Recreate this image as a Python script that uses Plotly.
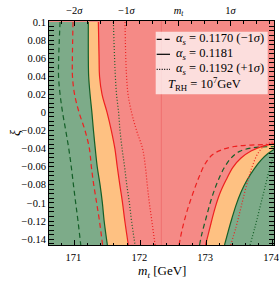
import plotly.graph_objects as go

# ---------------- data ----------------
# left-hand boundaries: m_t [GeV] at the common xi grid
xi_left = [0.1, 0.06, 0.04, 0.02, 0.0, -0.02, -0.04, -0.06, -0.08, -0.10, -0.12, -0.1465]
mt_dash_green_left = [170.783, 170.762, 170.760, 170.783, 170.821, 170.869, 170.915, 170.953, 170.986, 171.020, 171.055, 171.097]
mt_dash_red_left = [170.980, 170.970, 170.971, 171.003, 171.071, 171.162, 171.228, 171.258, 171.294, 171.338, 171.381, 171.428]
mt_solid_green_left = [171.212, 171.212, 171.217, 171.238, 171.266, 171.290, 171.317, 171.347, 171.390, 171.425, 171.452, 171.501]
mt_solid_red_left = [171.364, 171.375, 171.382, 171.420, 171.496, 171.561, 171.615, 171.651, 171.690, 171.731, 171.766, 171.819]
mt_dot_green_left = [171.592, 171.610, 171.622, 171.640, 171.671, 171.693, 171.724, 171.762, 171.795, 171.835, 171.868, 171.921]
mt_dot_red_left = [171.769, 171.780, 171.792, 171.815, 171.868, 171.944, 172.035, 172.078, 172.106, 172.138, 172.176, 172.225]

# right-hand boundaries (m_t, xi)
mt_dash_red_right = [172.589, 172.634, 172.710, 172.801, 172.892, 172.983, 173.090, 173.226, 173.423, 173.681, 174.030]
xi_dash_red_right = [-0.1465, -0.1300, -0.1090, -0.0891, -0.0714, -0.0570, -0.0471, -0.0416, -0.0377, -0.0361, -0.0355]
mt_dash_green_right = [172.900, 172.938, 172.999, 173.075, 173.166, 173.272, 173.379, 173.500, 173.681, 174.030]
xi_dash_green_right = [-0.1465, -0.1333, -0.1167, -0.0968, -0.0780, -0.0615, -0.0504, -0.0433, -0.0394, -0.0377]
mt_solid_red_right = [172.991, 173.029, 173.075, 173.135, 173.211, 173.302, 173.409, 173.530, 173.681, 173.863, 174.030]
xi_solid_red_right = [-0.1465, -0.1355, -0.1222, -0.1057, -0.0891, -0.0747, -0.0604, -0.0504, -0.0427, -0.0372, -0.0344]
mt_solid_green_right = [173.279, 173.332, 173.393, 173.454, 173.530, 173.621, 173.727, 173.833, 173.939, 174.030]
xi_solid_green_right = [-0.1465, -0.1322, -0.1167, -0.1024, -0.0880, -0.0747, -0.0626, -0.0527, -0.0455, -0.0411]
mt_dot_red_right = [173.373, 173.454, 173.530, 173.606, 173.697, 173.788, 173.894, 174.030]
xi_dot_red_right = [-0.1465, -0.1266, -0.1046, -0.0825, -0.0604, -0.0449, -0.0361, -0.0322]
mt_dot_green_right = [173.666, 173.742, 173.818, 173.894, 173.970, 174.030]
xi_dot_green_right = [-0.1465, -0.1266, -0.1046, -0.0825, -0.0604, -0.0471]

mt_central = 172.58
mt_sigma = 0.79
mt_vline = 172.32
top_tick_k = [-2, -1, 0, 1]
top_tick_text = ["\u22122<i>\u03c3</i>", "\u22121<i>\u03c3</i>", "<i>m</i><sub><i>t</i></sub>", "1<i>\u03c3</i>"]
legend_labels = ["<i>\u03b1</i><sub><i>s</i></sub> = 0.1170 (\u22121<i>\u03c3</i>)",
                 "<i>\u03b1</i><sub><i>s</i></sub> = 0.1181",
                 "<i>\u03b1</i><sub><i>s</i></sub> = 0.1192 (+1<i>\u03c3</i>)"]
legend_extra = "<i>T</i><sub>RH</sub> = 10<sup>7</sup>GeV"
x_title = "<i>m</i><sub><i>t</i></sub> [GeV]"
y_title = "<i>\u03be</i>"

XR = [170.615, 174.03]
YR = [-0.1465, 0.101]

# ---------------- style ----------------
FONT = "Liberation Serif"
C_PINK = "rgb(245,138,134)"
C_ORANGE = "rgb(254,193,130)"
C_GREEN = "rgb(125,171,137)"
L_GREEN = "rgb(20,95,40)"
L_RED = "rgb(238,32,32)"
DASH = "5px,3.5px"
DOT = "1px,2px"
LW = 1.2
ML, MR, MT, MB = 49, 5, 21, 40
PW, PH = 279 - ML - MR, 285 - MT - MB

fig = go.Figure()

# left fills (fill horizontally towards the left)
fig.add_trace(go.Scatter(x=mt_solid_red_left, y=xi_left, mode="lines", fill="tozerox",
                         fillcolor=C_ORANGE, line=dict(width=0, shape="spline"), hoverinfo="skip"))
fig.add_trace(go.Scatter(x=mt_solid_green_left, y=xi_left, mode="lines", fill="tozerox",
                         fillcolor=C_GREEN, line=dict(width=0, shape="spline"), hoverinfo="skip"))

# right fills (fill below the curve, via a baseline under the axis)
def fill_below(xs, ys, color):
    fig.add_trace(go.Scatter(x=[xs[0], XR[1] + 1], y=[YR[0] - 0.2, YR[0] - 0.2], mode="lines",
                             line=dict(width=0), hoverinfo="skip"))
    fig.add_trace(go.Scatter(x=xs, y=ys, mode="lines", fill="tonexty", fillcolor=color,
                             line=dict(width=0, shape="spline"), hoverinfo="skip"))

fill_below(mt_solid_red_right, xi_solid_red_right, C_ORANGE)
fill_below(mt_solid_green_right, xi_solid_green_right, C_GREEN)

# faint vertical line
fig.add_trace(go.Scatter(x=[mt_vline, mt_vline], y=YR, mode="lines",
                         line=dict(color="rgb(236,105,105)", width=0.8), hoverinfo="skip"))

def curve(xs, ys, color, dash):
    fig.add_trace(go.Scatter(x=xs, y=ys, mode="lines", hoverinfo="skip",
                             line=dict(color=color, width=LW, dash=dash, shape="spline")))

curve(mt_dash_green_left, xi_left, L_GREEN, DASH)
curve(mt_dash_red_left, xi_left, L_RED, DASH)
curve(mt_solid_green_left, xi_left, L_GREEN, "solid")
curve(mt_solid_red_left, xi_left, L_RED, "solid")
curve(mt_dot_green_left, xi_left, L_GREEN, DOT)
curve(mt_dot_red_left, xi_left, L_RED, DOT)
curve(mt_dash_red_right, xi_dash_red_right, L_RED, DASH)
curve(mt_dash_green_right, xi_dash_green_right, L_GREEN, DASH)
curve(mt_solid_red_right, xi_solid_red_right, L_RED, "solid")
curve(mt_solid_green_right, xi_solid_green_right, L_GREEN, "solid")
curve(mt_dot_red_right, xi_dot_red_right, L_RED, DOT)
curve(mt_dot_green_right, xi_dot_green_right, L_GREEN, DOT)

# invisible trace for the top axis
fig.add_trace(go.Scatter(x=[mt_central], y=[0], xaxis="x2", mode="markers",
                         marker=dict(opacity=0), hoverinfo="skip"))

tickfont = dict(family=FONT, size=10.5, color="black")
fig.update_layout(
    width=279, height=285, autosize=False,
    margin=dict(l=ML, r=MR, t=MT, b=MB),
    paper_bgcolor="white", plot_bgcolor=C_PINK,
    showlegend=False, hovermode=False,
    font=dict(family=FONT, color="black"),
    xaxis=dict(range=XR, showgrid=False, zeroline=False, showline=True, linecolor="black",
               linewidth=1, mirror=True, ticks="inside", ticklen=5, tickcolor="black",
               tickmode="linear", tick0=171, dtick=1, tickfont=tickfont,
               ticklabeloverflow="allow", ticklabelstandoff=2, ticklabelshift=-1,
               minor=dict(ticks="inside", ticklen=2.5, dtick=0.2, tick0=171, tickcolor="black"),
               automargin=False),
    xaxis2=dict(range=XR, overlaying="x", side="top", showgrid=False, zeroline=False,
                ticks="inside", ticklen=5, tickcolor="black", tickmode="array",
                tickvals=[mt_central + k * mt_sigma for k in top_tick_k], ticktext=top_tick_text,
                tickfont=tickfont, ticklabeloverflow="allow", ticklabelstandoff=4,
                minor=dict(ticks="inside", ticklen=2.5, tickmode="linear", tick0=mt_central,
                           dtick=mt_sigma / 4, tickcolor="black"), automargin=False),
    yaxis=dict(range=YR, showgrid=False, zeroline=False, showline=True, linecolor="black",
               linewidth=1, mirror="allticks", ticks="inside", ticklen=5, tickcolor="black",
               tickmode="linear", tick0=0, dtick=0.02, tickfont=tickfont,
               ticklabeloverflow="allow",
               minor=dict(ticks="inside", ticklen=2.5, dtick=0.005, tick0=0, tickcolor="black"),
               automargin=False),
)

# ---------------- text placed in pixel terms ----------------
def px2x(px):
    return (px - ML) / PW

def py2y(py):
    return (285 - MB - py) / PH

fig.add_annotation(xref="paper", yref="paper", x=px2x(162), y=py2y(271), text=x_title,
                   showarrow=False, xanchor="center", yanchor="middle",
                   font=dict(family=FONT, size=13, color="black"))
fig.add_annotation(xref="paper", yref="paper", x=px2x(15), y=py2y(133), text=y_title,
                   showarrow=False, xanchor="center", yanchor="middle", textangle=-90,
                   font=dict(family=FONT, size=14, color="black"))

# legend box (manual)
fig.add_shape(type="rect", xref="paper", yref="paper", x0=px2x(155.7), x1=px2x(267.7),
              y0=py2y(94.3), y1=py2y(31.7), fillcolor="rgba(255,255,255,0.72)", line=dict(width=0))
rows = [39.3, 54.3, 69.3]
for lab, row, dash in zip(legend_labels, rows, ["5px,3px", "solid", "1px,1.5px"]):
    fig.add_shape(type="line", xref="paper", yref="paper", x0=px2x(156.7), x1=px2x(170),
                  y0=py2y(row), y1=py2y(row), line=dict(color="black", width=1.2, dash=dash))
    fig.add_annotation(xref="paper", yref="paper", x=px2x(174), y=py2y(row), text=lab,
                       showarrow=False, xanchor="left", yanchor="middle",
                       font=dict(family=FONT, size=12.5, color="black"))
fig.add_annotation(xref="paper", yref="paper", x=px2x(166), y=py2y(84), text=legend_extra,
                   showarrow=False, xanchor="left", yanchor="middle",
                   font=dict(family=FONT, size=12.5, color="black"))

fig.write_html("out.html", config={"displayModeBar": False, "staticPlot": True},
               post_script="document.body.style.margin='0px';document.body.style.overflow='hidden';")
